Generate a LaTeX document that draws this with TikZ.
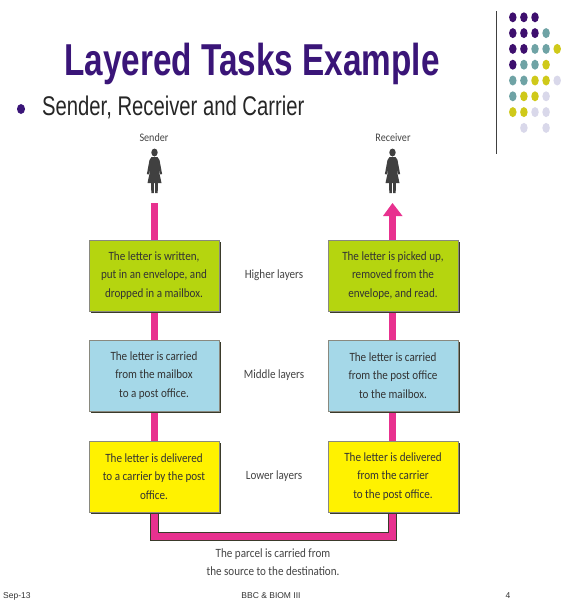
\documentclass[tikz,border=0pt]{standalone}
\usepackage{fontspec}
\usetikzlibrary{shapes.geometric}
\setmainfont{Liberation Sans}
\newfontfamily\figfont[FakeStretch=0.88]{Carlito}
\definecolor{titlepurple}{HTML}{3A1578}
\definecolor{dotP}{HTML}{3E0F6E}
\definecolor{dotT}{HTML}{6FA3A5}
\definecolor{dotY}{HTML}{CFC91A}
\definecolor{dotL}{HTML}{D9D8EA}
\definecolor{boxgreen}{HTML}{B5D50F}
\definecolor{boxblue}{HTML}{A5D8E8}
\definecolor{boxyellow}{HTML}{FFF200}
\definecolor{pipepink}{HTML}{E8318F}
\definecolor{edge}{HTML}{3A3A2A}
\definecolor{figtext}{HTML}{444444}
\tikzset{
  taskbox/.style={minimum width=130pt,inner sep=0pt,align=center,font=\figfont\fontsize{12.6}{18.3}\selectfont,text=black!80,draw=edge!60,line width=0.5pt},
  lab/.style={font=\figfont\fontsize{12.6}{18}\selectfont,text=figtext,align=center,inner sep=0pt},
  foot/.style={font=\fontsize{8.5}{10}\selectfont,text=black!80,inner sep=0pt},
  pipe/.style={draw=pipepink,line width=7pt},
  pipeedge/.style={draw=edge,line width=9pt},
  dot/.style={ellipse,minimum width=7.5pt,minimum height=10pt,inner sep=0pt},
}
\newcommand{\person}[2]{%
  \begin{scope}[shift={(#1,#2)},x=1pt,y=-1pt]
    \fill[black!75] (0,-24.5) ellipse (3.2 and 4);
    \fill[black!75] (-3,-20) -- (3,-20) -- (5,-17) -- (7.6,-3) -- (6,-2.5) -- (3.8,-9) -- (7,6) -- (3.4,6) -- (3.2,16) -- (0.7,16) -- (0.5,6) -- (-0.5,6) -- (-0.7,16) -- (-3.2,16) -- (-3.4,6) -- (-7,6) -- (-3.8,-9) -- (-6,-2.5) -- (-7.6,-3) -- (-5,-17) -- cycle;
  \end{scope}}
\begin{document}
\begin{tikzpicture}[x=1pt,y=-1pt]
\useasboundingbox (0,0) rectangle (569,608);
\fill[white] (0,0) rectangle (569,608);
% title
\node[font=\bfseries\fontsize{44.7}{50}\selectfont,text=titlepurple,inner sep=0pt,anchor=base,xscale=0.745] (title) at (252,75) {Layered Tasks Example};
\node[ellipse,fill=titlepurple,minimum width=8pt,minimum height=10pt,inner sep=0pt] (bullet) at (21,109) {};
\node[font=\fontsize{27}{30}\selectfont,text=black!85,inner sep=0pt,anchor=base west,xscale=0.75] (sub) at (42,115) {Sender, Receiver and Carrier};
% decoration
\draw[black!75,line width=1pt] (496,11) -- (496,154);
\foreach \c/\r/\k in {1/1/P,2/1/P,3/1/P,1/2/P,2/2/P,3/2/P,4/2/T,1/3/P,2/3/P,3/3/T,4/3/T,5/3/Y,1/4/P,2/4/T,3/4/T,4/4/Y,1/5/T,2/5/T,3/5/Y,4/5/Y,5/5/L,1/6/T,2/6/Y,3/6/Y,4/6/L,1/7/Y,2/7/Y,3/7/L,4/7/L,2/8/L,4/8/L}{
  \node[dot,fill=dot\k] (d\c\r) at ({501.7+11.1*\c},{1.5+15.8*\r}) {};
}
% coordinates
\coordinate (stop) at (154.5,203);
\coordinate (rtop) at (392.5,203);
\coordinate (sb) at (154.5,536);
\coordinate (rb) at (392.5,536);
% pipes
\draw[pipeedge,line join=miter] (sb) ++(0,-30) -- (sb) -- (rb) -- ++(0,-30);
\draw[pipe,line join=miter] (stop) -- (sb) -- (rb) -- (392.5,214);
\fill[pipepink] (rtop) -- (402.5,216) -- (383,216) -- cycle;
% people
\person{154.5}{177}
\person{392.5}{177}
% boxes
\foreach \ypos/\h/\col/\nm/\tl/\tr/\mid in {
 275.5/71/boxgreen/hi/{The letter is written,\\put in an envelope, and\\dropped in a mailbox.}/{The letter is picked up,\\removed from the\\envelope, and read.}/{Higher layers},
 375.5/71/boxblue/mi/{The letter is carried\\from the mailbox\\to a post office.}/{The letter is carried\\from the post office\\to the mailbox.}/{Middle layers},
 476.5/71/boxyellow/lo/{The letter is delivered\\to a carrier by the post\\office.}/{The letter is delivered\\from the carrier\\to the post office.}/{Lower layers}}{
  \fill[edge] (91,\ypos-\h/2+2) rectangle (221,\ypos+\h/2+2);
  \fill[edge] (330,\ypos-\h/2+2) rectangle (460,\ypos+\h/2+2);
  \node[taskbox,fill=\col,minimum height=\h pt] (\nm L) at (154,\ypos) {\tl};
  \node[taskbox,fill=\col,minimum height=\h pt] (\nm R) at (393,\ypos) {\tr};
  \node[lab] (\nm M) at (274,\ypos) {\mid};
}
% labels
\node[lab,font=\figfont\fontsize{11.5}{13}\selectfont] (sender) at (154,138) {Sender};
\node[lab,font=\figfont\fontsize{11.5}{13}\selectfont] (receiver) at (393,138) {Receiver};
\node[lab] (parcel) at (273,562) {The parcel is carried from\\the source to the destination.};
% footer
\node[foot,anchor=west] (fa) at (3,596) {Sep-13};
\node[foot] (fb) at (271,596) {BBC \& BIOM III};
\node[foot] (fc) at (508,596) {4};
\end{tikzpicture}
\end{document}
